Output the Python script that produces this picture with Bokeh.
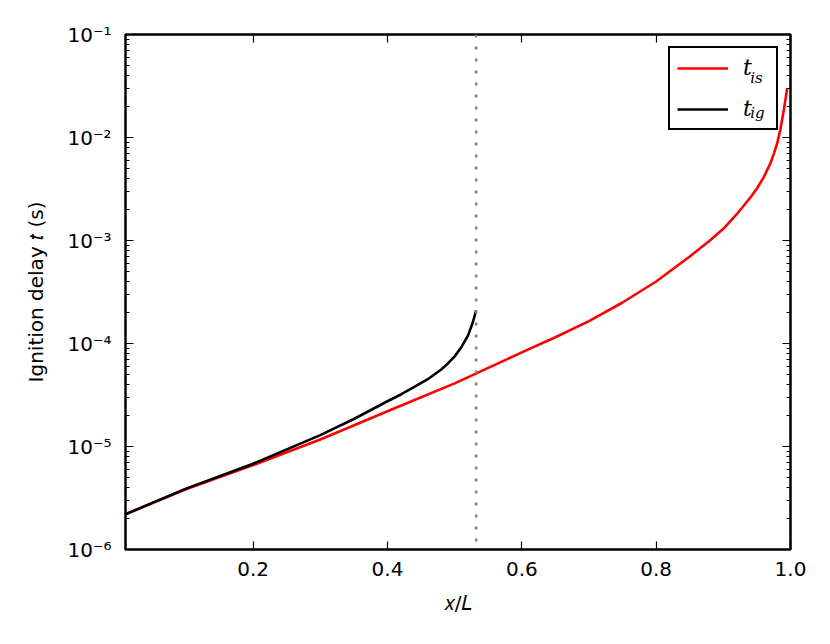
from bokeh.plotting import figure
from bokeh.models import (Span, Legend, LegendItem, Label, LogAxis, LinearAxis,
                          FixedTicker, LogTicker, CustomJSTickFormatter, Range1d)
from bokeh.embed import file_html
from bokeh.resources import INLINE

# ---- data ----
x_is = [0.01, 0.1, 0.2, 0.3, 0.4, 0.5, 0.55, 0.6, 0.65, 0.7, 0.75, 0.8, 0.85,
        0.88, 0.9, 0.92, 0.94, 0.95, 0.96, 0.97, 0.975, 0.98, 0.985, 0.99, 0.993, 0.995]
t_is = [2.2e-6, 3.85e-6, 6.6e-6, 1.17e-5, 2.2e-5, 4.1e-5, 5.8e-5, 8.2e-5, 1.15e-4,
        1.65e-4, 2.5e-4, 4.0e-4, 7.0e-4,
        1.0e-3, 1.3e-3, 1.8e-3, 2.6e-3, 3.2e-3, 4.1e-3, 5.6e-3, 6.9e-3, 8.7e-3,
        1.2e-2, 1.85e-2, 2.45e-2, 3.0e-2]
x_ig = [0.01, 0.1, 0.2, 0.3, 0.35, 0.4, 0.42, 0.44, 0.46, 0.48, 0.49, 0.50, 0.51,
        0.52, 0.527, 0.532]
t_ig = [2.2e-6, 3.9e-6, 6.8e-6, 1.29e-5, 1.85e-5, 2.75e-5, 3.2e-5, 3.8e-5, 4.5e-5,
        5.6e-5, 6.4e-5, 7.5e-5, 9.2e-5, 1.2e-4, 1.6e-4, 2.1e-4]
x_switch = 0.532
x_limits = [0.01, 1.0]
y_limits = [1e-6, 1e-1]
x_ticks = [0.2, 0.4, 0.6, 0.8, 1.0]
series_labels = ["t", "t"]
series_subs = ["is", "ig"]
sub_x = 0.940
sub_y = [0.038, 0.0173]

FONT = "DejaVu Sans"

p = figure(frame_width=665, frame_height=515,
           min_border_left=125, min_border_right=24, min_border_top=34, min_border_bottom=79,
           y_axis_type="log",
           x_range=Range1d(*x_limits), y_range=Range1d(*y_limits),
           output_backend="svg", toolbar_location=None)
p.background_fill_color = "white"
p.border_fill_color = "white"
p.outline_line_color = "black"
p.outline_line_width = 2.5
p.grid.visible = False

sup_js = """
const m = {'-':'\u207b','0':'\u2070','1':'\u00b9','2':'\u00b2','3':'\u00b3','4':'\u2074',
           '5':'\u2075','6':'\u2076','7':'\u2077','8':'\u2078','9':'\u2079'};
const e = Math.round(Math.log10(tick)).toString();
let s = '';
for (const c of e) { s += m[c]; }
return '10' + s;
"""

# bottom axis
xa = p.xaxis[0]
xa.ticker = FixedTicker(ticks=x_ticks)
xa.formatter = CustomJSTickFormatter(code="return tick.toFixed(1);")
xa.axis_label = "\U0001D465/\U0001D43F"
# left axis
ya = p.yaxis[0]
ya.ticker = LogTicker(num_minor_ticks=10)
ya.formatter = CustomJSTickFormatter(code=sup_js)
ya.axis_label = "Ignition delay \U0001D461 (s)"

for ax in (xa, ya):
    ax.axis_line_color = None
    ax.major_tick_in = 8
    ax.major_tick_out = 0
    ax.minor_tick_in = 4
    ax.minor_tick_out = 0
    ax.major_tick_line_width = 1.2
    ax.minor_tick_line_width = 1
    ax.major_label_text_font = FONT
    ax.major_label_text_font_size = "20px"
    ax.major_label_text_color = "black"
    ax.axis_label_text_font = FONT
    ax.axis_label_text_font_size = "20px"
    ax.axis_label_text_font_style = "normal"
    ax.axis_label_text_color = "black"
xa.minor_tick_in = 0
xa.major_label_standoff = 12
xa.axis_label_standoff = 12
ya.major_label_standoff = 14
ya.axis_label_standoff = 16

# mirrored axes (top / right) with ticks only
empty = CustomJSTickFormatter(code="return '';")
top = LinearAxis(ticker=FixedTicker(ticks=x_ticks), formatter=empty)
right = LogAxis(ticker=LogTicker(num_minor_ticks=10), formatter=empty)
for ax in (top, right):
    ax.axis_line_color = None
    ax.major_tick_in = 8
    ax.major_tick_out = 0
    ax.minor_tick_in = 4
    ax.minor_tick_out = 0
    ax.major_tick_line_width = 1.2
    ax.major_label_text_font_size = "1px"
    ax.major_label_standoff = 0
top.minor_tick_in = 0
p.add_layout(top, "above")
p.add_layout(right, "right")

# data
r_is = p.line(x_is, t_is, line_color="red", line_width=2.6)
r_ig = p.line(x_ig, t_ig, line_color="black", line_width=2.6)

p.add_layout(Span(location=x_switch, dimension="height", line_color="#808080",
                  line_width=2.5, line_dash="3 9"))

legend = Legend(items=[LegendItem(label=series_labels[0], renderers=[r_is]),
                       LegendItem(label=series_labels[1], renderers=[r_ig])],
                location="top_right")
legend.border_line_color = "black"
legend.border_line_width = 2.5
legend.border_line_alpha = 1
legend.background_fill_alpha = 0
legend.label_text_font = "DejaVu Serif"
legend.label_text_font_style = "italic"
legend.label_text_font_size = "22px"
legend.label_text_color = "black"
legend.glyph_width = 51
legend.glyph_height = 22
legend.label_height = 22
legend.label_width = 26
legend.label_standoff = 15
legend.padding = 7
legend.spacing = 16
legend.margin = 12
p.add_layout(legend)

for sub, yv in zip(series_subs, sub_y):
    p.add_layout(Label(x=sub_x, y=yv, text=sub, text_font="DejaVu Serif",
                       text_font_style="italic", text_font_size="15px",
                       text_baseline="alphabetic", text_color="black",
                       level="overlay"))

open("out.html", "w").write(file_html(p, INLINE))
